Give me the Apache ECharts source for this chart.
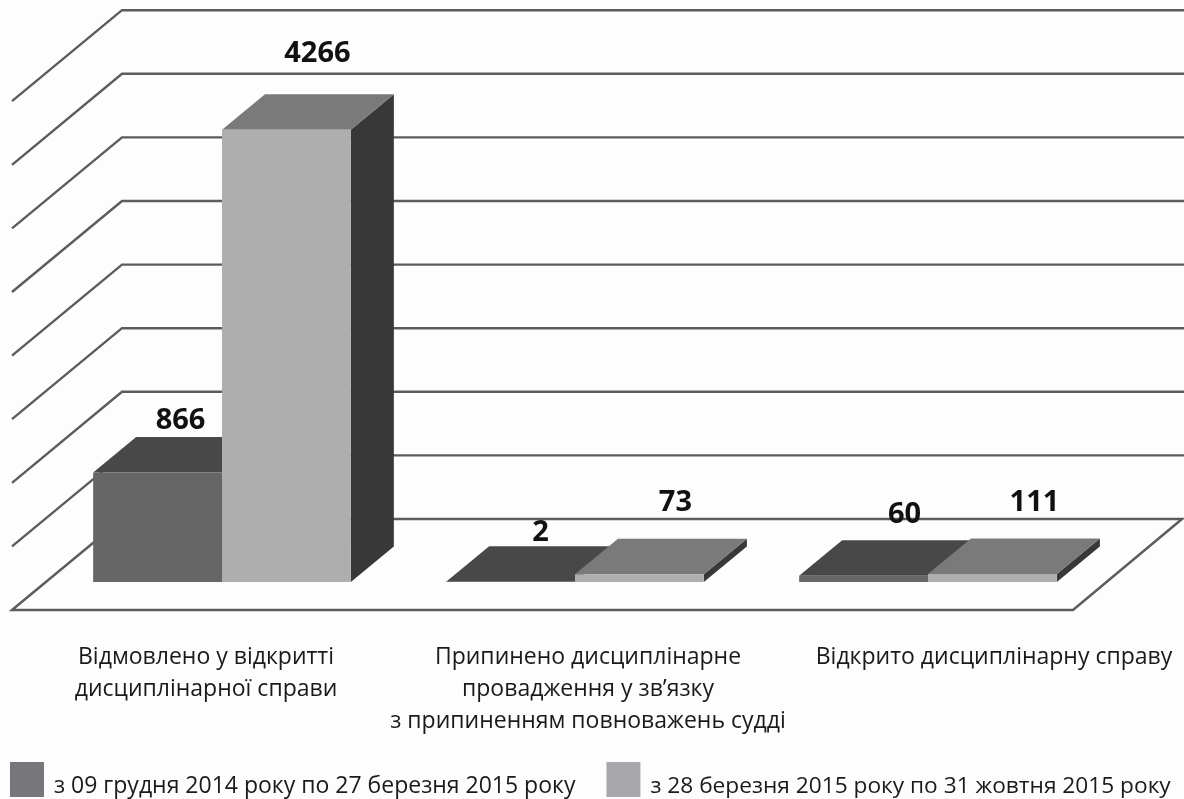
<!DOCTYPE html>
<html>
<head>
<meta charset="utf-8">
<style>
  html, body { margin: 0; padding: 0; background: #fdfdfd; }
  #chart { width: 1184px; height: 799px; }
</style>
</head>
<body>
<div id="chart"></div>
<script src="https://cdn.jsdelivr.net/npm/echarts@6/dist/echarts.min.js"></script>
<script>
var categories = [
  "Відмовлено у відкритті\nдисциплінарної справи",
  "Припинено дисциплінарне\nпровадження у зв’язку\nз припиненням повноважень судді",
  "Відкрито дисциплінарну справу"
];
var seriesNames = [
  "з 09 грудня 2014 року по 27 березня 2015 року",
  "з 28 березня 2015 року по 31 жовтня 2015 року"
];
// numbers printed above the bars
var printedFirst = [866, 2, 60];
var printedSecond = [4266, 73, 111];
// bar heights read against the wall lines; in the picture 866 and 111 are not drawn to scale
var heightFirst = [1034, 2, 60];
var heightSecond = [4266, 73, 75];
var wallTicks = [0, 600, 1200, 1800, 2400, 3000, 3600, 4200, 4800];

var FONT = '"Open Sans", "Noto Sans", sans-serif';
var DEPTH_X = 43;
var DEPTH_Y = 35.5;
var WALL_SHIFT = 63;
var LINE = { stroke: "#5c5c5c", lineWidth: 2.4, fill: null };

// label shift from the bar's front top centre
var shiftFirst = [[23, -52], [30, -49], [41, -61]];
var shiftSecond = [[31, -76], [36, -72], [42, -71]];
var categoryPos = [[-16, 641], [13, 641], [66, 641]];

function barItem(side, front, top, right, shifts) {
  return function (params, api) {
    var i = api.value(0);
    var base = api.coord([i, 0]);
    var head = api.coord([i, api.value(1)]);
    var w = api.size([1, 0])[0] * 0.365;
    var x0 = side < 0 ? base[0] - w : base[0];
    var x1 = x0 + w;
    var y0 = base[1];
    var y1 = head[1];
    var shift = shifts[i];
    return {
      type: "group",
      children: [
        {
          type: "polygon",
          shape: { points: [[x1, y0], [x1 + DEPTH_X, y0 - DEPTH_Y], [x1 + DEPTH_X, y1 - DEPTH_Y], [x1, y1]] },
          style: { fill: right }
        },
        {
          type: "polygon",
          shape: { points: [[x0, y1], [x1, y1], [x1 + DEPTH_X, y1 - DEPTH_Y], [x0 + DEPTH_X, y1 - DEPTH_Y]] },
          style: { fill: top }
        },
        {
          type: "rect",
          shape: { x: x0, y: y1, width: w, height: y0 - y1 },
          style: { fill: front }
        },
        {
          type: "text",
          x: (x0 + x1) / 2 + shift[0],
          y: y1 + shift[1],
          style: {
            text: String(api.value(2)),
            fill: "#111",
            font: "bold 29px " + FONT,
            textAlign: "center",
            textVerticalAlign: "middle"
          }
        }
      ]
    };
  };
}

function wallItem(params, api) {
  var tick = api.value(0);
  var y = api.coord([0, tick])[1] - WALL_SHIFT;
  if (tick === 0) {
    return {
      type: "polygon",
      shape: { points: [[12, y + 91], [122, y], [1182, y], [1073, y + 91]] },
      style: LINE
    };
  }
  return {
    type: "polyline",
    shape: { points: [[12, y + 91], [122, y], [1184, y]] },
    style: LINE
  };
}

function categoryItem(params, api) {
  var i = api.value(0);
  var p = api.coord([i, 0]);
  return {
    type: "text",
    x: p[0] + categoryPos[i][0],
    y: categoryPos[i][1],
    style: {
      text: categories[i],
      fill: "#1a1a1a",
      font: "23px " + FONT,
      lineHeight: 32,
      textAlign: "center",
      textVerticalAlign: "top"
    }
  };
}

function zip(a, b) {
  return a.map(function (v, i) { return [i, v, b[i]]; });
}

var chart = echarts.init(document.getElementById("chart"));
chart.setOption({
  animation: false,
  backgroundColor: "#fdfdfd",
  grid: { left: 45.5, top: 73.2, width: 1059, height: 508.8 },
  xAxis: { type: "category", data: categories, show: false },
  yAxis: { type: "value", min: 0, max: 4800, interval: 600, show: false },
  legend: {
    left: 10,
    top: 761,
    padding: 0,
    selectedMode: false,
    icon: "rect",
    itemWidth: 34,
    itemHeight: 35,
    itemGap: 31,
    formatter: function (name) {
      return (name === seriesNames[0] ? "{a|" : "{b|") + name + "}";
    },
    textStyle: {
      rich: {
        a: { fontFamily: FONT, fontSize: 23, color: "#1a1a1a", lineHeight: 32, padding: [14, 0, 0, 5] },
        b: { fontFamily: FONT, fontSize: 22.7, color: "#1a1a1a", lineHeight: 32, padding: [14, 0, 0, 5] }
      }
    },
    data: [
      { name: seriesNames[0], itemStyle: { color: "#77777b" } },
      { name: seriesNames[1], itemStyle: { color: "#a9a9ad" } }
    ]
  },
  series: [
    {
      type: "custom",
      name: "wall",
      silent: true,
      renderItem: wallItem,
      encode: { y: 0 },
      data: wallTicks.map(function (t) { return [t]; })
    },
    {
      type: "custom",
      name: seriesNames[0],
      renderItem: barItem(-1, "#666666", "#484848", "#3a3a3a", shiftFirst),
      encode: { x: 0, y: 1 },
      data: zip(heightFirst, printedFirst)
    },
    {
      type: "custom",
      name: seriesNames[1],
      renderItem: barItem(1, "#aeaeae", "#7a7a7a", "#383838", shiftSecond),
      encode: { x: 0, y: 1 },
      data: zip(heightSecond, printedSecond)
    },
    {
      type: "custom",
      name: "categories",
      silent: true,
      renderItem: categoryItem,
      encode: { x: 0 },
      data: categories.map(function (c, i) { return [i]; })
    }
  ]
});
</script>
</body>
</html>
